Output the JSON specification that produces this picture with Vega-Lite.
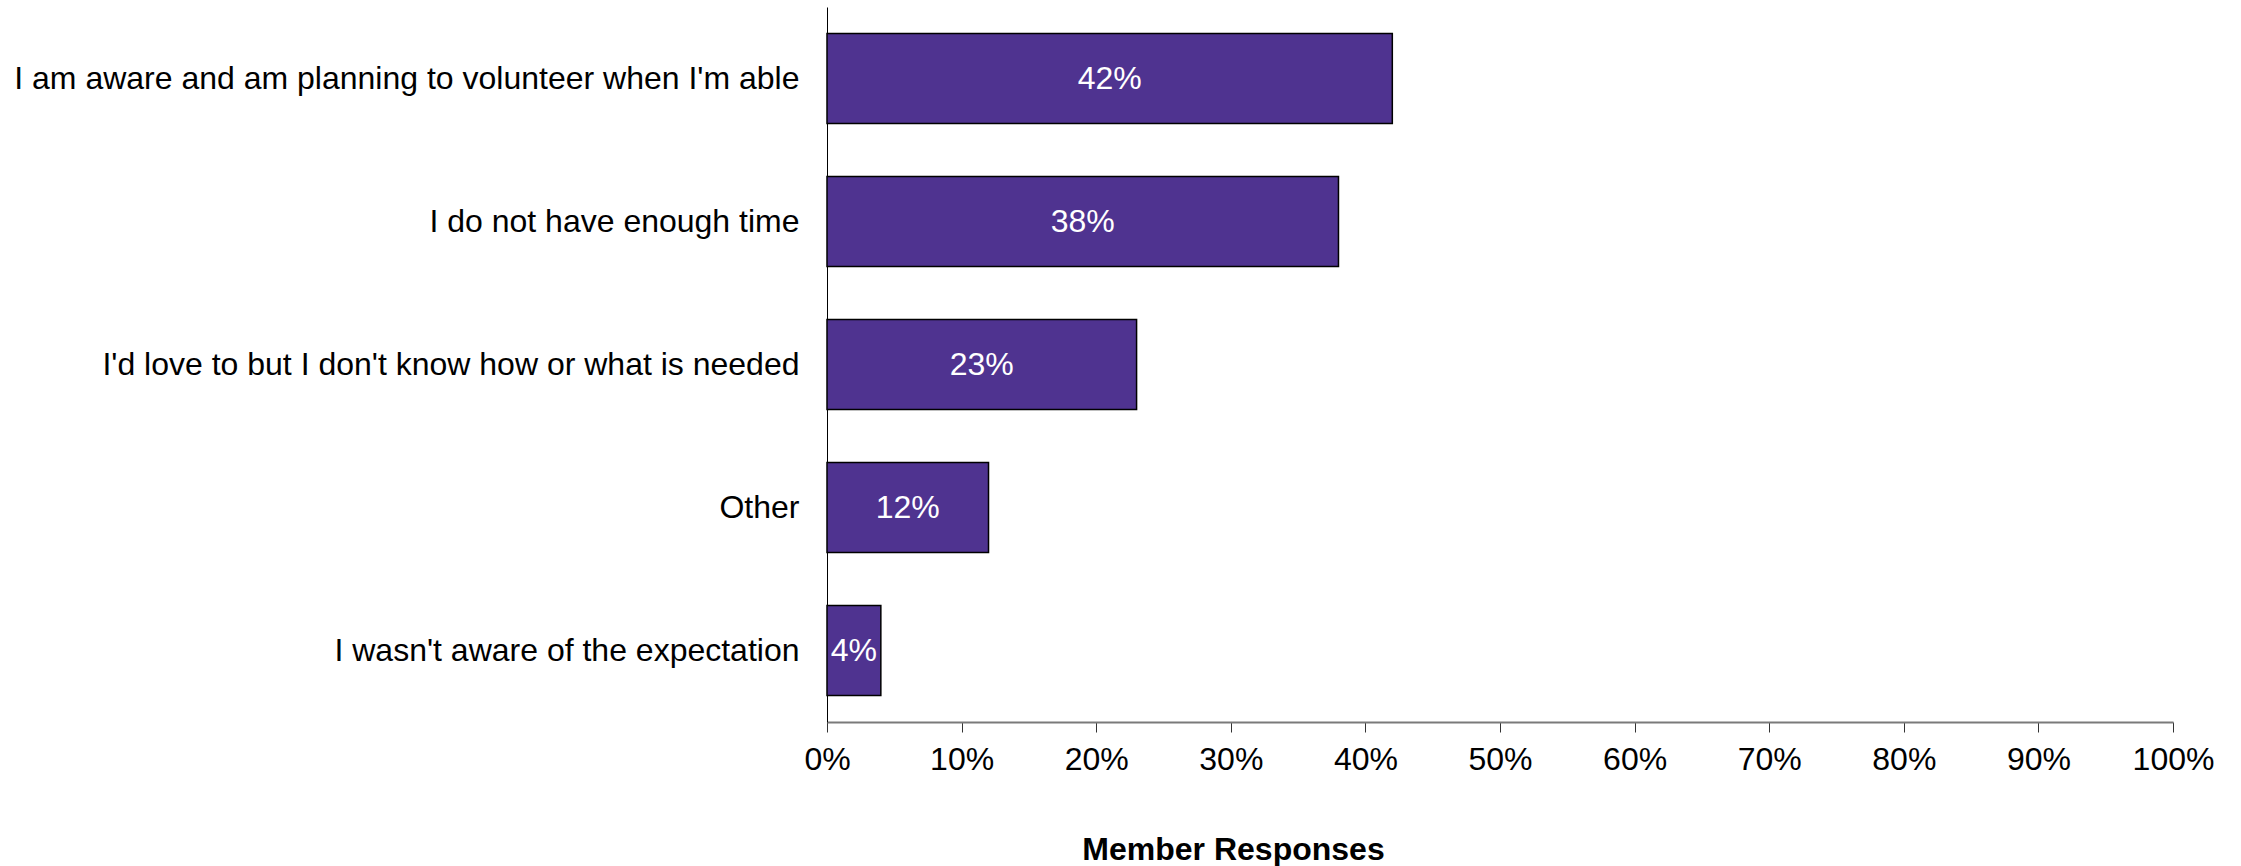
{
  "$schema": "https://vega.github.io/schema/vega-lite/v6.json",
  "autosize": {"type": "none"},
  "padding": {"left": 827, "top": 7, "right": 68, "bottom": 144},
  "width": 1346,
  "height": 715,
  "background": "white",
  "config": {
    "view": {"stroke": null},
    "font": "Liberation Sans",
    "text": {"font": "Liberation Sans"}
  },
  "data": {
    "values": [
      {"response": "I am aware and am planning to volunteer when I'm able", "share": 0.42},
      {"response": "I do not have enough time", "share": 0.38},
      {"response": "I'd love to but I don't know how or what is needed", "share": 0.23},
      {"response": "Other", "share": 0.12},
      {"response": "I wasn't aware of the expectation", "share": 0.04}
    ]
  },
  "encoding": {
    "y": {
      "field": "response",
      "type": "nominal",
      "sort": null,
      "title": null,
      "scale": {"paddingInner": 0.37, "paddingOuter": 0.185},
      "axis": {
        "domainColor": "#000000",
        "domainWidth": 1,
        "ticks": false,
        "labelPadding": 28,
        "labelFontSize": 32,
        "labelColor": "#000000",
        "labelFont": "Liberation Sans",
        "labelLimit": 900
      }
    }
  },
  "layer": [
    {
      "mark": {"type": "bar", "color": "#4F3390", "stroke": "#000000", "strokeWidth": 1.5},
      "encoding": {
        "x": {
          "field": "share",
          "type": "quantitative",
          "scale": {"domain": [0, 1]},
          "title": "Member Responses",
          "axis": {
            "format": ".0%",
            "values": [0, 0.1, 0.2, 0.3, 0.4, 0.5, 0.6, 0.7, 0.8, 0.9, 1],
            "grid": false,
            "domainColor": "#7a7a7a",
            "domainWidth": 2,
            "tickColor": "#333333",
            "tickSize": 10,
            "tickWidth": 1,
            "labelPadding": 12,
            "labelFontSize": 32,
            "labelColor": "#000000",
            "labelFont": "Liberation Sans",
            "labelFlush": false,
            "labelOverlap": false,
            "titleFont": "Liberation Sans",
            "titleFontSize": 32,
            "titleFontWeight": "bold",
            "titleColor": "#000000",
            "titleX": 406,
            "titleY": 127,
            "titleAlign": "center",
            "titleBaseline": "middle",
            "titleAnchor": null
          }
        }
      }
    },
    {
      "mark": {"type": "text", "color": "#ffffff", "fontSize": 32, "font": "Liberation Sans", "align": "center", "baseline": "middle"},
      "encoding": {
        "x": {"field": "share", "type": "quantitative", "stack": "zero", "bandPosition": 0.5},
        "text": {"field": "share", "type": "quantitative", "format": ".0%"}
      }
    }
  ]
}
